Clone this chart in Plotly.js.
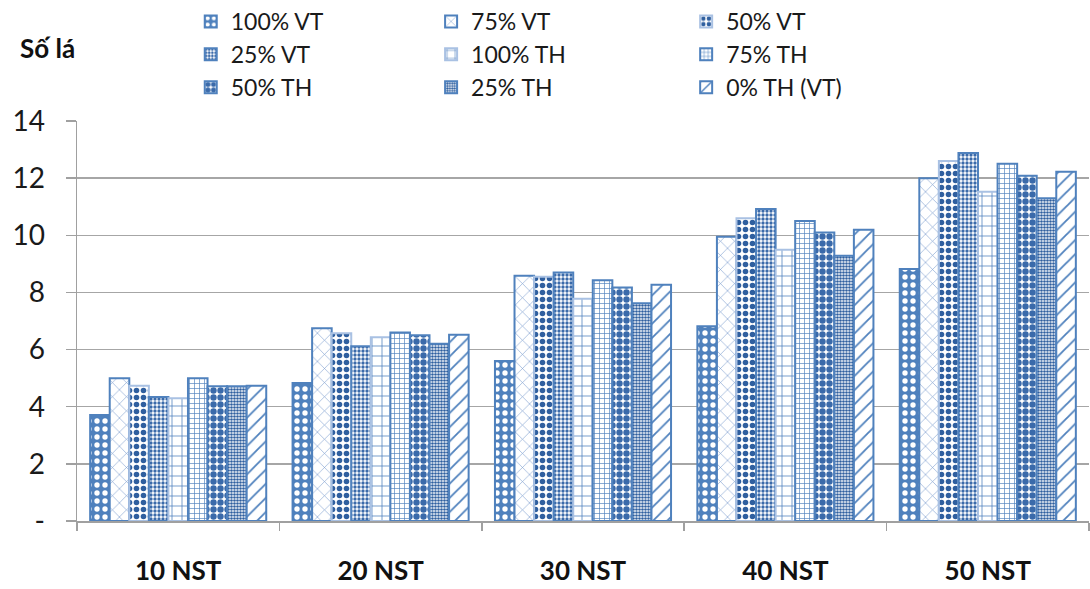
<!DOCTYPE html>
<html>
<head>
<meta charset="utf-8">
<script src="https://cdn.plot.ly/plotly-3.0.1.min.js"></script>
<style>html,body{margin:0;padding:0;background:#fff}#chart{width:1090px;height:589px}</style>
</head>
<body>
<div id="chart"></div>
<script>
var categories = ["10 NST", "20 NST", "30 NST", "40 NST", "50 NST"];
var seriesNames = ["100% VT", "75% VT", "50% VT", "25% VT", "100% TH", "75% TH", "50% TH", "25% TH", "0% TH (VT)"];
var v100VT = [3.71, 4.83, 5.60, 6.82, 8.82];
var v75VT  = [5.00, 6.75, 8.58, 9.95, 12.00];
var v50VT  = [4.73, 6.57, 8.55, 10.60, 12.60];
var v25VT  = [4.34, 6.12, 8.70, 10.92, 12.88];
var v100TH = [4.30, 6.43, 7.78, 9.49, 11.52];
var v75TH  = [5.00, 6.60, 8.43, 10.50, 12.50];
var v50TH  = [4.72, 6.50, 8.17, 10.10, 12.08];
var v25TH  = [4.72, 6.20, 7.62, 9.28, 11.30];
var v0TH   = [4.73, 6.52, 8.27, 10.19, 12.22];
var yTickVals = [0, 2, 4, 6, 8, 10, 12, 14];
var yTickText = ["-", "2", "4", "6", "8", "10", "12", "14"];
var yTitle = "Số lá";

var values = [v100VT, v75VT, v50VT, v25VT, v100TH, v75TH, v50TH, v25TH, v0TH];
var blue = "#4f81bd", dark = "#2f5f9f", light = "#a9c1e3";
var patterns = [
  {shape: ".", bgcolor: blue, fgcolor: "#ffffff", size: 8, solidity: 0.35},
  {shape: "x", bgcolor: "#ffffff", fgcolor: "#7f9fd0", size: 10, solidity: 0.12},
  {shape: ".", bgcolor: "#ffffff", fgcolor: dark, size: 7, solidity: 0.5},
  {shape: ".", bgcolor: "#ffffff", fgcolor: "#3a6aaa", size: 4, solidity: 0.55},
  {shape: "+", bgcolor: "#ffffff", fgcolor: blue, size: 10, solidity: 0.15},
  {shape: "+", bgcolor: "#ffffff", fgcolor: blue, size: 5, solidity: 0.25},
  {shape: ".", bgcolor: "#ffffff", fgcolor: "#3a6aaa", size: 7, solidity: 0.65},
  {shape: ".", bgcolor: "#ffffff", fgcolor: dark, size: 3, solidity: 0.6},
  {shape: "/", bgcolor: "#ffffff", fgcolor: blue, size: 10, solidity: 0.18}
];
var borderColors = [blue, blue, light, blue, light, blue, blue, blue, blue];
var legendIds = ["legend", "legend2", "legend3"];

var traces = values.map(function (v, i) {
  return {
    type: "bar",
    name: seriesNames[i],
    x: categories,
    y: v,
    legend: legendIds[i % 3],
    legendgroup: "g" + i,
    marker: {
      color: blue,
      pattern: Object.assign({fillmode: "replace"}, patterns[i]),
      line: {color: borderColors[i], width: 2}
    },
    hoverinfo: "x+y+name"
  };
});

var fam = "Lato, 'Open Sans', sans-serif";
var legendFont = {family: fam, size: 23, color: "#1a1a1a"};
function mkLegend(x) {
  return {x: x, y: 1.0, xref: "container", yref: "container", xanchor: "left", yanchor: "top",
    orientation: "v", font: legendFont, tracegroupgap: 0, bgcolor: "rgba(0,0,0,0)", itemwidth: 30};
}

var layout = {
  width: 1090, height: 589,
  margin: {l: 77, r: 1, t: 121, b: 68, autoexpand: false},
  paper_bgcolor: "#ffffff", plot_bgcolor: "#ffffff",
  barmode: "group", bargap: 0.13, bargroupgap: 0,
  font: {family: fam, color: "#1a1a1a"},
  xaxis: {
    type: "category", automargin: false, tickangle: 0,
    showline: true, linecolor: "#a0a0a0", linewidth: 1.5,
    ticks: "outside", tickson: "boundaries", ticklen: 8, tickcolor: "#a0a0a0", tickwidth: 1.5,
    tickfont: {family: fam, size: 26, color: "#111", weight: "bold"},
    ticklabelstandoff: 26,
    showgrid: false
  },
  yaxis: {
    range: [0, 14], automargin: false,
    tickvals: yTickVals, ticktext: yTickText,
    showline: true, linecolor: "#a0a0a0", linewidth: 1.5,
    ticks: "outside", ticklen: 10, tickcolor: "#a0a0a0", tickwidth: 1.5,
    showgrid: true, gridcolor: "#a6a6a6", gridwidth: 1.5,
    zeroline: false,
    tickfont: {family: fam, size: 28, color: "#1a1a1a"},
    ticklabelstandoff: 15
  },
  legend: mkLegend(0.175),
  legend2: mkLegend(0.3955),
  legend3: mkLegend(0.6295),
  annotations: [{
    text: yTitle, xref: "paper", yref: "paper", x: 0, y: 1.1825, xanchor: "center", yanchor: "middle",
    xshift: -30, showarrow: false,
    font: {family: fam, size: 26, color: "#111", weight: "bold"}
  }],
  showlegend: true
};

Plotly.newPlot("chart", traces, layout, {displayModeBar: false, staticPlot: true});
</script>
</body>
</html>
